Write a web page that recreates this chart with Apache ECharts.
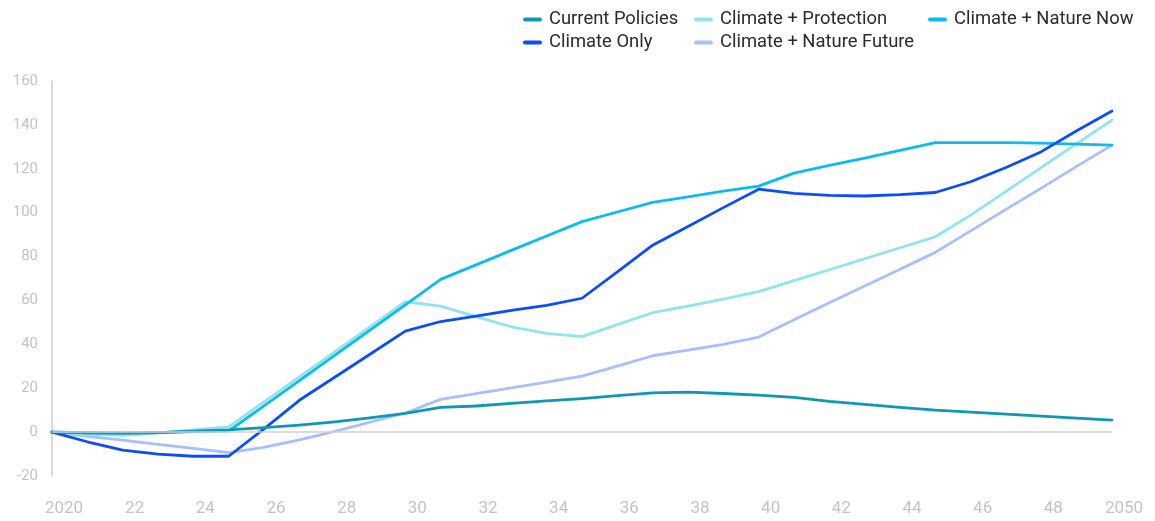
<!DOCTYPE html>
<html>
<head>
<meta charset="utf-8">
<script src="https://cdn.jsdelivr.net/npm/echarts@6/dist/echarts.min.js"></script>
<style>
html,body{margin:0;padding:0;background:#fff;}
#chart{width:1155px;height:521px;}
</style>
</head>
<body>
<div id="chart"></div>
<script>
var years = [2020,2021,2022,2023,2024,2025,2026,2027,2028,2029,2030,2031,2032,2033,2034,2035,2036,2037,2038,2039,2040,2041,2042,2043,2044,2045,2046,2047,2048,2049,2050];
var seriesNames = ['Current Policies','Climate + Protection','Climate + Nature Now','Climate Only','Climate + Nature Future'];
var currentPolicies = [0,-0.3,-0.5,-0.2,0.4,1,2,3.2,4.7,6.5,8.5,11.3,11.9,13.1,14.2,15.3,16.6,17.9,18.2,17.6,16.9,15.8,14.0,12.6,11.3,10.0,9.1,8.2,7.3,6.4,5.5];
var climateProtection = [0,-1,-1.5,-0.5,1,2.4,13.8,25.2,36.6,48,59.4,57.4,52.6,48,45,43.5,49,54.4,57.4,60.6,64,69,74,79,84,89,98.9,109.7,120.6,131.5,142.2];
var climateNatureNow = [0,-0.3,-0.5,-0.2,0.2,0.5,12,23.5,35,46.5,58,69.6,76.2,82.8,89.4,95.9,100.3,104.7,107.2,109.8,112.1,118,121.5,124.8,128.4,131.9,131.9,131.9,131.7,131.2,130.8];
var climateOnly = [0,-4.4,-8.2,-10,-11,-11,1.5,14.5,25,35.5,46,50.4,52.9,55.5,57.8,61,73,85.2,93.7,102.3,110.7,108.8,107.9,107.6,108.2,109.2,114.1,120.6,127.8,137.3,146.3];
var climateNatureFuture = [0,-1.9,-3.7,-5.6,-7.4,-9.3,-7,-3.5,0.3,4.5,8.7,14.9,17.5,20.2,22.8,25.5,30.1,34.8,37.4,40,43.3,51.2,58.9,66.6,74.2,81.9,91.7,101.5,111.2,121.1,130.8];
var yTicks = [-20,0,20,40,60,80,100,120,140,160];

var colors = {
  'Current Policies':'#0f97b4',
  'Climate + Protection':'#8fe4ef',
  'Climate + Nature Now':'#0bbcf0',
  'Climate Only':'#0a4dff',
  'Climate + Nature Future':'#a8bfff'
};
var valuesByName = {
  'Current Policies':currentPolicies,
  'Climate + Protection':climateProtection,
  'Climate + Nature Now':climateNatureNow,
  'Climate Only':climateOnly,
  'Climate + Nature Future':climateNatureFuture
};

function pairs(arr){ return years.map(function(y,i){ return [y, arr[i]]; }); }

var font = 'Roboto, "Liberation Sans", Arial, sans-serif';
var pill = 'path://M2,0 L17,0 A2,2 0 0 1 17,4 L2,4 A2,2 0 0 1 2,0 Z';
function legendCol(left, data){
  return {
    orient:'vertical', left:left, top:9.5, padding:0, itemWidth:19, itemHeight:4, itemGap:3,
    icon:pill, data:data, selectedMode:false,
    textStyle:{fontFamily:font, fontSize:18.4, color:'#2b2b2b', lineHeight:20, padding:[0,0,0,2]}
  };
}

var drawOrder = ['Climate + Nature Future','Climate + Protection','Climate + Nature Now','Climate Only','Current Policies'];
var series = drawOrder.map(function(name, idx){
  var s = {
    name:name, type:'line', data:pairs(valuesByName[name]),
    showSymbol:false, symbol:'none', smooth:false, silent:true,
    lineStyle:{color:colors[name], width:2.8, cap:'round', join:'round'},
    itemStyle:{color:colors[name]}
  };
  if(idx===0){
    s.markLine = {silent:true, symbol:'none', label:{show:false},
      lineStyle:{color:'#d0d0d0', width:1.5, type:'solid'},
      data:[{yAxis:0}]};
  }
  return s;
});
series[0].z = 2;

var labelRich = {fontFamily:font, fontSize:17, color:'#c4c4c4', padding:[0,0,0,24]};

var chart = echarts.init(document.getElementById('chart'), null, {renderer:'canvas'});
chart.setOption({
  backgroundColor:'#ffffff',
  animation:false,
  color:seriesNames.map(function(n){return colors[n];}),
  legend:[
    legendCol(523, ['Current Policies','Climate Only']),
    legendCol(694, ['Climate + Protection','Climate + Nature Future']),
    legendCol(928, ['Climate + Nature Now'])
  ],
  grid:{left:52, right:43, top:81, bottom:45, containLabel:false},
  xAxis:{
    type:'value', min:2020, max:2050, interval:2,
    axisLine:{show:false}, axisTick:{show:false}, splitLine:{show:false},
    axisLabel:{
      margin:24, fontFamily:font, fontSize:17, color:'#c4c4c4',
      formatter:function(v){
        if(v===2020 || v===2050) return '{n|' + v + '}';
        return '{n|' + String(v).slice(2) + '}';
      },
      rich:{ n:labelRich }
    }
  },
  yAxis:{
    type:'value', min:-20, max:160, interval:20,
    axisLine:{show:true, lineStyle:{color:'#cfcfcf', width:1.5}},
    axisTick:{show:false}, splitLine:{show:false},
    axisLabel:{margin:14, fontFamily:font, fontSize:15, color:'#c4c4c4',
      formatter:function(v){ return yTicks.indexOf(v) >= 0 ? String(v) : ''; }}
  },
  series:series
});
</script>
</body>
</html>
